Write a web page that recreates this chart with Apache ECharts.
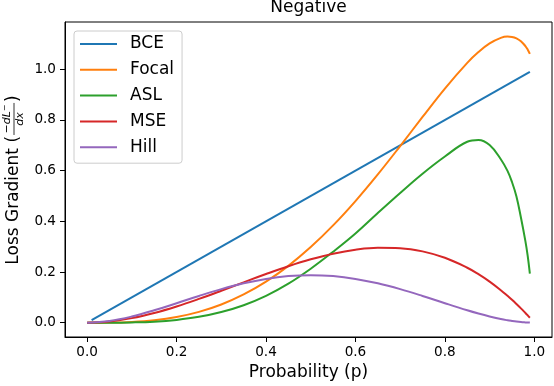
<!DOCTYPE html>
<html>
<head>
<meta charset="utf-8">
<script src="https://cdn.jsdelivr.net/npm/echarts@6/dist/echarts.min.js"></script>
<style>
  html, body { margin: 0; padding: 0; background: #fff; }
  #chart { width: 554px; height: 386px; }
</style>
</head>
<body>
<div id="chart"></div>
<script>
// probabilities the curves are sampled at
const probs = [0, 0.05, 0.1, 0.15, 0.2, 0.25, 0.3, 0.35, 0.4, 0.45, 0.5, 0.55, 0.6, 0.65, 0.7, 0.75, 0.8, 0.85, 0.875, 0.9, 0.925, 0.94, 0.95, 0.96, 0.97, 0.98, 0.985, 0.99]
const bceProbs = [0.01, 0.99]
const bceGrad = [0.01, 0.99]
const focalGrad = [0, 0.0004, 0.0029, 0.0096, 0.0223, 0.0426, 0.0719, 0.1115, 0.1621, 0.2243, 0.2983, 0.3838, 0.4799, 0.5851, 0.6970, 0.8118, 0.9240, 1.0253, 1.0679, 1.1020, 1.1239, 1.1289, 1.1277, 1.1221, 1.1106, 1.0915, 1.0779, 1.0606]
const aslGrad = [0, 0, 0.001, 0.004, 0.011, 0.023, 0.042, 0.069, 0.106, 0.154, 0.213, 0.280, 0.352, 0.433, 0.512, 0.588, 0.656, 0.714, 0.721, 0.701, 0.645, 0.599, 0.555, 0.498, 0.415, 0.322, 0.266, 0.194]
const mseGrad = [0, 0.0048, 0.018, 0.0383, 0.064, 0.0938, 0.126, 0.1593, 0.192, 0.2228, 0.25, 0.2723, 0.288, 0.2958, 0.294, 0.2813, 0.256, 0.2168, 0.1914, 0.162, 0.1283, 0.1060, 0.0903, 0.0737, 0.0565, 0.0384, 0.0291, 0.0196]
const hillGrad = [0, 0.0068, 0.0243, 0.0488, 0.0768, 0.1055, 0.1323, 0.1553, 0.1728, 0.1838, 0.1875, 0.1838, 0.1728, 0.1553, 0.1323, 0.1055, 0.0768, 0.0488, 0.0359, 0.0243, 0.0144, 0.0095, 0.0068, 0.0044, 0.0025, 0.0012, 0.0007, 0.0003]

const xTicks = [0, 0.2, 0.4, 0.6, 0.8, 1.0]
const yTicks = [0, 0.2, 0.4, 0.6, 0.8, 1.0]

const FONT = 'DejaVu Sans'
const colors = ['#1f77b4', '#ff7f0e', '#2ca02c', '#d62728', '#9467bd']

function pairs(xs, ys) {
  return xs.map((x, i) => [x, ys[i]])
}

// measure text so the rotated y label can be laid out piece by piece
const ctx = document.createElement('canvas').getContext('2d')
function textWidth(str, font) {
  ctx.font = font
  return ctx.measureText(str).width
}

function buildYLabel() {
  const bigFont = '17px "' + FONT + '"'
  const smallFont = 'italic 11px "' + FONT + '"'
  const supFont = '8px "' + FONT + '"'
  const head = 'Loss Gradient ('
  const wHead = textWidth(head, bigFont)
  const wNum = textWidth('\u2212dL', smallFont) + textWidth('\u2212', supFont)
  const wDen = textWidth('dx', smallFont)
  const wFrac = Math.max(wNum, wDen) + 3
  const wTail = textWidth(')', bigFont)
  const total = wHead + wFrac + wTail + 2
  const x0 = -total / 2
  const fracX = x0 + wHead + 1
  const children = [
    { type: 'text', style: { text: head, x: x0, y: 0, font: bigFont, fill: '#000', align: 'left', verticalAlign: 'middle' } },
    { type: 'text', style: { text: '\u2212dL', x: fracX + (wFrac - wNum) / 2, y: -6, font: smallFont, fill: '#000', align: 'left', verticalAlign: 'middle' } },
    { type: 'text', style: { text: '\u2212', x: fracX + (wFrac - wNum) / 2 + wNum - textWidth('\u2212', supFont), y: -9, font: supFont, fill: '#000', align: 'left', verticalAlign: 'middle' } },
    { type: 'line', shape: { x1: fracX, y1: 0.5, x2: fracX + wFrac, y2: 0.5 }, style: { stroke: '#000', lineWidth: 0.8 } },
    { type: 'text', style: { text: 'dx', x: fracX + (wFrac - wDen) / 2, y: 7, font: smallFont, fill: '#000', align: 'left', verticalAlign: 'middle' } },
    { type: 'text', style: { text: ')', x: fracX + wFrac + 1, y: 0, font: bigFont, fill: '#000', align: 'left', verticalAlign: 'middle' } }
  ]
  return { type: 'group', x: 13.5, y: 180, rotation: Math.PI / 2, children: children }
}

const chart = echarts.init(document.getElementById('chart'), null, { renderer: 'canvas' })

function lineSeries(name, data, color) {
  return {
    name: name,
    type: 'line',
    data: data,
    symbol: 'none',
    smooth: 0.4,
    clip: false,
    lineStyle: { color: color, width: 2 },
    itemStyle: { color: color }
  }
}

const option = {
  animation: false,
  title: {
    text: 'Negative',
    left: 308.5,
    textAlign: 'center',
    top: -1,
    padding: 0,
    textStyle: { fontFamily: FONT, fontSize: 17, fontWeight: 'normal', color: '#000' }
  },
  legend: {
    orient: 'vertical',
    left: 74,
    top: 31,
    padding: [4, 8, 7, 6],
    icon: 'rect',
    itemWidth: 37,
    itemHeight: 2,
    itemGap: 7.8,
    backgroundColor: 'rgba(255,255,255,0.8)',
    borderColor: '#cccccc',
    borderWidth: 1,
    borderRadius: 3,
    textStyle: { fontFamily: FONT, fontSize: 17, color: '#000', lineHeight: 18, padding: [0, 0, 0, 8] },
    data: ['BCE', 'Focal', 'ASL', 'MSE', 'Hill']
  },
  grid: {
    left: 65,
    right: 2,
    top: 22,
    bottom: 49,
    show: true,
    borderColor: '#000',
    borderWidth: 1,
    containLabel: false
  },
  xAxis: {
    type: 'value',
    min: -0.0495,
    max: 1.0395,
    name: 'Probability (p)',
    nameLocation: 'middle',
    nameGap: 25,
    nameTextStyle: { fontFamily: FONT, fontSize: 17, color: '#000' },
    splitLine: { show: false },
    axisLine: { onZero: false, lineStyle: { color: '#000', width: 1 } },
    axisTick: { show: true, length: 5, lineStyle: { color: '#000' }, customValues: xTicks },
    axisLabel: {
      customValues: xTicks,
      margin: 8,
      fontFamily: FONT,
      fontSize: 13.6,
      color: '#000',
      formatter: v => v.toFixed(1)
    }
  },
  yAxis: {
    type: 'value',
    min: -0.0565,
    max: 1.1865,
    splitLine: { show: false },
    axisLine: { show: true, onZero: false, lineStyle: { color: '#000', width: 1 } },
    axisTick: { show: true, length: 5, lineStyle: { color: '#000' }, customValues: yTicks },
    axisLabel: {
      customValues: yTicks,
      margin: 9,
      fontFamily: FONT,
      fontSize: 13.6,
      color: '#000',
      formatter: v => v.toFixed(1)
    }
  },
  graphic: [buildYLabel()],
  series: [
    lineSeries('BCE', pairs(bceProbs, bceGrad), colors[0]),
    lineSeries('Focal', pairs(probs, focalGrad), colors[1]),
    lineSeries('ASL', pairs(probs, aslGrad), colors[2]),
    lineSeries('MSE', pairs(probs, mseGrad), colors[3]),
    lineSeries('Hill', pairs(probs, hillGrad), colors[4])
  ]
}

chart.setOption(option)
window.addEventListener('resize', () => chart.resize())
</script>
</body>
</html>
